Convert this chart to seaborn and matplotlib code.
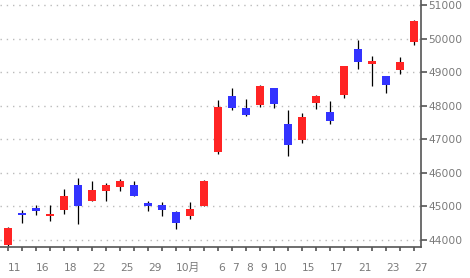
import matplotlib
matplotlib.use("Agg")
import matplotlib.pyplot as plt
import seaborn as sns
import numpy as np

# Data
tick_labels = ['11', '', '16', '', '18', '', '22', '', '25', '', '29', '', '10月', '', '',
               '6', '7', '8', '9', '10', '', '15', '', '17', '', '21', '', '23', '', '27']
opens  = [43860, 44804, 44953, 44722, 44902, 45638, 45170, 45468, 45587, 45638,
          45102, 45042, 44833, 44723, 45021, 46630, 48289, 47932, 48030, 48527,
          47455, 46978, 48090, 47812, 48319, 49689, 49251, 48885, 49073, 49907]
highs  = [44387, 44893, 45042, 45042, 45519, 45855, 45757, 45697, 45817, 45757,
          45161, 45131, 44864, 45131, 45787, 48170, 48527, 48200, 48617, 48527,
          47872, 47783, 48319, 48140, 49183, 49957, 49481, 48885, 49451, 50553]
lows   = [43830, 44515, 44753, 44574, 44783, 44485, 45160, 45170, 45468, 45300,
          44872, 44723, 44336, 44634, 45021, 46561, 47881, 47702, 47970, 47941,
          46511, 46898, 47911, 47464, 48238, 49102, 48596, 48387, 48953, 49817]
closes = [44357, 44753, 44872, 44774, 45310, 45021, 45489, 45638, 45757, 45319,
          45021, 44902, 44515, 44923, 45757, 47961, 47941, 47723, 48587, 48060,
          46829, 47664, 48289, 47553, 49183, 49311, 49332, 48626, 49302, 50523]
y_ticks = [44000, 45000, 46000, 47000, 48000, 49000, 50000, 51000]

sns.set_style("white")
plt.rcParams['font.family'] = ['DejaVu Sans', 'Noto Sans CJK JP']

UP = '#ff2424'
DOWN = '#3333ff'
AXC = '#555555'
TXT = '#7a7a7a'

fig = plt.figure(figsize=(4.70, 2.78), dpi=100)
ax = fig.add_axes([0.0, 0.1104, 421 / 470, 1 - 0.1104])

x = np.arange(len(opens))
o = np.array(opens); c = np.array(closes)
h = np.array(highs); l = np.array(lows)
up = c >= o
colors = [UP if u else DOWN for u in up]

ax.vlines(x, l, h, color='black', lw=0.9, zorder=2)
ax.bar(x, c - o, bottom=o, width=0.64, color=colors, zorder=3, linewidth=0)

ax.set_xlim(-0.571, 29.5)
ax.set_ylim(43782, 51149)

for yv in y_ticks:
    ax.axhline(yv, color='#bbbbbb', lw=1.0, linestyle=(0, (1, 3.5)), zorder=1)

ax.set_yticks(y_ticks)
ax.set_yticklabels([str(v) for v in y_ticks])
ax.yaxis.tick_right()
ax.set_xticks(x)
ax.set_xticklabels(tick_labels, ha='left')

for s in ['left', 'top']:
    ax.spines[s].set_visible(False)
for s in ['right', 'bottom']:
    ax.spines[s].set_color(AXC)
    ax.spines[s].set_linewidth(1.2)

ax.tick_params(axis='y', which='both', right=True, left=False, length=4, width=1.2,
               color=AXC, labelcolor=TXT, labelsize=7.7, pad=1.5, direction='out')
ax.tick_params(axis='x', which='both', bottom=True, length=3, width=1.2,
               color=AXC, labelcolor=TXT, labelsize=7.7, pad=8.5, direction='out')
ax.grid(False)

fig.savefig('out.png', dpi=100)
